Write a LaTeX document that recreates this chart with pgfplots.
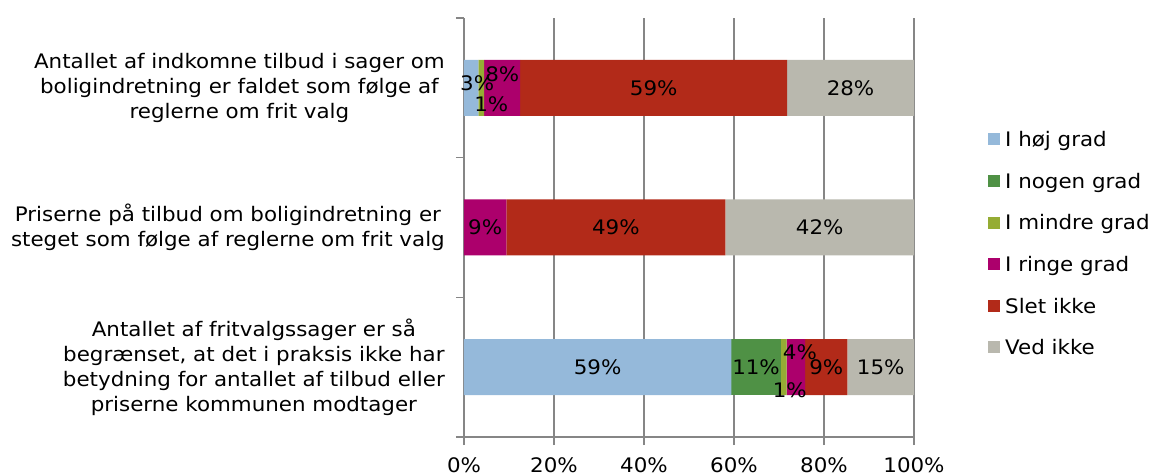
\documentclass[border=0pt]{standalone}
\usepackage{fontspec}
\setmainfont{DejaVu Sans}[FakeStretch=1.07]
\usepackage{pgfplots}
\usepackage{pgfplotstable}
\pgfplotsset{compat=1.18}
\usetikzlibrary{calc}

\definecolor{chigh}{RGB}{149,185,218}
\definecolor{csome}{RGB}{79,145,69}
\definecolor{cless}{RGB}{149,172,52}
\definecolor{clow}{RGB}{172,0,108}
\definecolor{cnot}{RGB}{178,42,25}
\definecolor{cdk}{RGB}{185,184,174}
\definecolor{axgray}{RGB}{134,134,134}

\newcommand{\ff}{\fontsize{20}{25}\selectfont}

% y: 2 = top question, 0 = bottom question; dx/dy move the label (pt)
\pgfplotstableread{
y x lab dx dy
2 3.2 3\% 6 5
1 0 {} 0 0
0 59.4 59\% 0 0
}\thoej
\pgfplotstableread{
y x lab dx dy
2 0 {} 0 0
1 0 {} 0 0
0 11.0 11\% 0 0
}\tnogen
\pgfplotstableread{
y x lab dx dy
2 1.3 1\% 10 -16
1 0 {} 0 0
0 1.3 1\% 6 -23
}\tmindre
\pgfplotstableread{
y x lab dx dy
2 8.0 8\% 0 14
1 9.4 9\% 0 0
0 4.1 4\% 4 15
}\tringe
\pgfplotstableread{
y x lab dx dy
2 59.3 59\% 0 0
1 48.7 49\% 0 0
0 9.4 9\% 0 0
}\tslet
\pgfplotstableread{
y x lab dx dy
2 28.2 28\% 0 0
1 41.9 42\% 0 0
0 14.8 15\% 0 0
}\tved

\pgfplotsset{
  seg/.style={fill=#1, draw=none,
    nodes near coords,
    point meta=explicit symbolic,
    visualization depends on={\thisrow{dx}\as\lbx},
    visualization depends on={\thisrow{dy}\as\lby},
    every node near coord/.append style={anchor=center, font=\ff, text=black,
      xshift={\lbx*1pt}, yshift={\lby*1pt}}},
}

\begin{document}
\ff
\begin{tikzpicture}[font=\ff]
\begin{axis}[
  scale only axis,
  width=450pt, height=419pt,
  xbar stacked,
  bar width=56pt,
  xmin=0, xmax=100,
  ymin=-0.5, ymax=2.5,
  axis x line*=bottom,
  axis y line*=left,
  axis line style={draw=axgray, line width=1.2pt},
  tick style={draw=axgray, line width=1.2pt},
  tick align=outside,
  major tick length=8pt,
  xtick={0,20,...,100},
  xticklabel={\pgfmathprintnumber[assume math mode=true]{\tick}\%},
  xticklabel style={font=\ff, inner sep=0pt, yshift=-12pt},
  xmajorgrids,
  grid style={draw=axgray, line width=1.2pt},
  ytick={-0.5,0.5,1.5,2.5},
  yticklabels={,,,},
  extra y ticks={0,1,2},
  extra y tick labels={
    {Antallet af fritvalgssager er så\\begrænset, at det i praksis ikke har\\betydning for antallet af tilbud eller\\priserne kommunen modtager},
    {Priserne på tilbud om boligindretning er\\steget som følge af reglerne om frit valg},
    {Antallet af indkomne tilbud i sager om\\boligindretning er faldet som følge af\\reglerne om frit valg}},
  extra y tick style={major tick length=0pt,
    yticklabel style={align=center, font=\ff, inner sep=0pt, xshift=-19pt}},
  legend cell align=left,
  legend image code/.code={\fill[#1] (0pt,-6pt) rectangle (12pt,6pt);},
  legend style={at={(1.1644,0.728)}, anchor=north west, draw=none, fill=none,
    inner sep=0pt, row sep=27pt, column sep=5pt, font=\ff,
    nodes={inner sep=0pt, text height=14.6pt, text depth=0pt}},
]
\addplot[seg=chigh] table[x=x, y=y, meta=lab] {\thoej};
\addlegendentry{I høj grad}
\addplot[seg=csome] table[x=x, y=y, meta=lab] {\tnogen};
\addlegendentry{I nogen grad}
\addplot[seg=cless] table[x=x, y=y, meta=lab] {\tmindre};
\addlegendentry{I mindre grad}
\addplot[seg=clow] table[x=x, y=y, meta=lab] {\tringe};
\addlegendentry{I ringe grad}
\addplot[seg=cnot] table[x=x, y=y, meta=lab] {\tslet};
\addlegendentry{Slet ikke}
\addplot[seg=cdk] table[x=x, y=y, meta=lab] {\tved};
\addlegendentry{Ved ikke}
\coordinate (bl) at (rel axis cs:0,0);
\coordinate (tr) at (rel axis cs:1,1);
\end{axis}
\pgfresetboundingbox
\path ($(bl)+(-464pt,-39pt)$) rectangle ($(tr)+(239pt,18pt)$);
\end{tikzpicture}
\end{document}
